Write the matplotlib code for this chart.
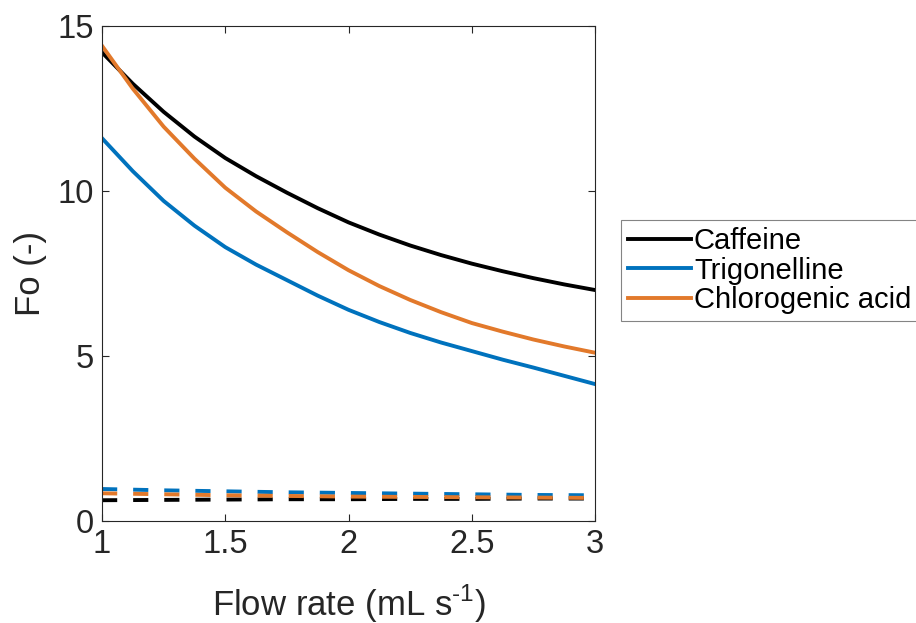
import numpy as np
import matplotlib.pyplot as plt

plt.rcParams['font.family'] = ['Liberation Sans', 'DejaVu Sans']
plt.rcParams['mathtext.fontset'] = 'custom'
plt.rcParams['mathtext.rm'] = 'Liberation Sans'

# flow rate grid (mL/s)
flow = [1, 1.125, 1.25, 1.375, 1.5, 1.625, 1.75, 1.875, 2,
        2.125, 2.25, 2.375, 2.5, 2.625, 2.75, 2.875, 3]

# Fourier number, solid curves
fo_caffeine = [14.2, 13.25, 12.4, 11.65, 11.0, 10.45, 9.95, 9.48, 9.05,
               8.68, 8.35, 8.06, 7.8, 7.57, 7.36, 7.17, 7.0]
fo_trigonelline = [11.6, 10.6, 9.7, 8.95, 8.3, 7.77, 7.3, 6.83, 6.4,
                   6.03, 5.7, 5.41, 5.15, 4.89, 4.65, 4.4, 4.15]
fo_chlorogenic = [14.4, 13.1, 11.95, 10.98, 10.1, 9.38, 8.75, 8.15, 7.6,
                  7.12, 6.7, 6.33, 6.0, 5.74, 5.5, 5.29, 5.1]

# dashed curves
flow_d = [1, 1.25, 1.5, 1.75, 2, 2.25, 2.5, 2.75, 3]
fo_caffeine_d = [0.63, 0.64, 0.65, 0.66, 0.66, 0.67, 0.67, 0.68, 0.68]
fo_trigonelline_d = [0.97, 0.93, 0.90, 0.87, 0.85, 0.83, 0.81, 0.79, 0.78]
fo_chlorogenic_d = [0.84, 0.81, 0.78, 0.76, 0.74, 0.73, 0.72, 0.71, 0.70]

labels = ['Caffeine', 'Trigonelline', 'Chlorogenic acid']
colors = ['#000000', '#0072BD', '#E2792B']
axcol = '#262626'

fig = plt.figure(figsize=(9.16, 6.23), dpi=100)
ax = fig.add_axes([0.1114, 0.1637, 0.5382, 0.7945])

lw = 2.8
for y, c, lab in zip([fo_caffeine, fo_trigonelline, fo_chlorogenic], colors, labels):
    ax.plot(flow, y, color=c, lw=lw, label=lab)
for y, c in zip([fo_caffeine_d, fo_trigonelline_d, fo_chlorogenic_d], colors):
    ax.plot(flow_d, y, color=c, lw=lw, dashes=(3.9, 4.1))

ax.set_xlim(1, 3)
ax.set_ylim(0, 15)
ax.set_xticks([1, 1.5, 2, 2.5, 3])
ax.set_xticklabels(['1', '1.5', '2', '2.5', '3'])
ax.set_yticks([0, 5, 10, 15])
ax.tick_params(direction='in', length=5, width=0.8, colors=axcol,
               labelsize=23.5, top=True, right=True, pad=6)
for s in ax.spines.values():
    s.set_color(axcol)
    s.set_linewidth(0.8)

ax.set_xlabel(r'Flow rate (mL s$^{\text{-1}}$)', fontsize=25, color=axcol, labelpad=16)
ax.set_ylabel('Fo (-)', fontsize=25, color=axcol, labelpad=7)

leg = fig.legend(loc='upper left', bbox_to_anchor=(0.678, 0.647), fontsize=21,
                 frameon=True, fancybox=False, handlelength=2.15, handletextpad=0.1,
                 borderpad=0.25, labelspacing=0.05, borderaxespad=0)
leg.get_frame().set_edgecolor('#666666')
leg.get_frame().set_linewidth(0.8)

fig.savefig('out.png', dpi=100)
